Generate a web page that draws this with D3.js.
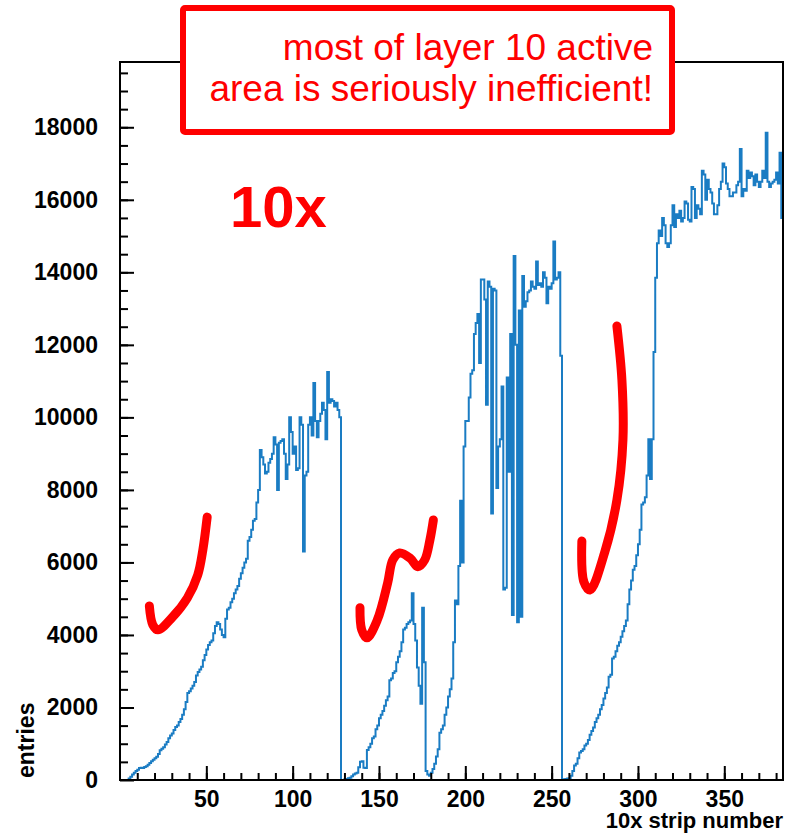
<!DOCTYPE html>
<html>
<head>
<meta charset="utf-8">
<script src="https://cdn.jsdelivr.net/npm/d3@7"></script>
<style>
  body { margin: 0; background: #fff; }
  svg text { font-family: "Liberation Sans", Arial, Helvetica, sans-serif; }
</style>
</head>
<body>
<div id="chart"></div>
<script>
// entries per strip (1 strip per bin)
var entriesA = [ // strips 0-127
  0,0,0,0,0,40,90,150,200,250,
  280,330,340,330,360,380,420,470,520,560,
  600,640,720,820,860,900,980,1050,1150,1230,
  1280,1380,1460,1500,1600,1680,1800,1950,2150,2400,
  2450,2520,2600,2700,2880,2980,3050,3120,3300,3450,
  3600,3720,3800,3850,4050,4250,4350,4300,4150,4000,
  3940,4450,4700,4750,4900,5000,5150,5250,5350,5550,
  5700,5850,6000,6100,6600,6700,6900,7150,7200,7650,
  8000,9100,8900,8700,8450,8500,8750,8850,9000,9450,
  9250,8000,9300,9350,9400,9000,8300,8700,10000,9600,
  9000,9200,8550,8600,10000,9800,6300,8400,8500,9800,
  10000,9500,10950,9900,9450,9900,10100,10400,10200,9400,
  11250,10400,10500,10450,10300,10400,10200,10000
];
var entriesB = [ // strips 128-177
  0,0,20,30,50,60,100,150,180,200,
  350,500,520,340,330,830,900,1000,1150,1200,
  1400,1500,1700,1800,1900,2050,2200,2300,2750,2800,
  2950,3000,3250,3400,3550,3800,4150,4200,4300,4350,
  4400,5150,4300,3850,3100,2600,2100,4750,3250,250
];
var entriesC = [ // strips 178-255
  150,120,200,300,450,650,850,1300,1400,1500,
  1800,2000,2300,2500,2800,3800,4950,4850,5900,7700,
  6000,9200,9900,9900,10550,11200,11300,12300,12600,12850,
  11500,13800,13800,13250,10350,13750,13600,7350,13550,13500,
  8050,9200,9400,10850,5250,5300,11100,8500,12300,4550,
  14450,12000,4350,12950,4500,13900,13050,13200,13450,13500,
  13750,13600,13550,14300,13650,13700,13600,14000,13850,13150,
  13600,13550,13700,14850,13800,13850,14000,11700
];
var entriesD = [ // strips 256-383
  0,20,30,40,50,120,250,400,450,600,
  760,800,850,950,1000,1100,1250,1350,1450,1600,
  1700,1800,1950,2070,2250,2400,2550,2850,2900,3350,
  3400,3550,3700,3800,3950,4100,4250,4400,4850,5250,
  5500,5800,5900,6200,6500,6900,7600,7650,7800,8400,
  9400,8300,9400,11800,13850,14800,15150,15000,15500,15300,
  14800,14700,14800,15300,15850,15250,15600,15500,15700,15400,
  15500,15950,15900,15450,15400,16350,16300,15500,15850,15750,
  15600,16800,16700,16000,16550,16300,16200,15900,15600,15600,
  15850,16300,16500,17000,16900,16450,16300,16100,16100,16200,
  16200,16400,16500,17400,16100,16300,16250,16800,16600,16750,
  16650,16400,16700,16500,16350,16500,16800,16600,17850,16500,
  16350,16450,16500,16550,16750,16450,17300,15500
];

var xTicks = [50, 100, 150, 200, 250, 300, 350];
var yTicks = [0, 2000, 4000, 6000, 8000, 10000, 12000, 14000, 16000, 18000];
var xTitle = "10x strip number";
var yTitle = "entries";
var noteLines = ["most of layer 10 active", "area is seriously inefficient!"];
var bigNote = "10x";

// hand-drawn check marks, in (strip, entries) units
var check1 = [[17,4800],[19,4280],[22,4140],[30,4470],[39,5020],[45,5650],[48,6350],[50.5,7250]];
var check2 = [[139,4750],[140,4140],[143,3920],[149,4410],[155,5430],[158,6070],[162,6260],[168,6120],[172.5,5880],[176.5,6070],[179.5,6620],[181.5,7170]];
var check3 = [[267.5,6590],[268.7,5460],[272.2,5240],[280.8,6290],[287.8,7720],[291.3,9380],[290.7,11030],[287.8,12520]];

var W = 792, H = 834;
var frameL = 120, frameR = 783, frameT = 62, frameB = 780;

var entries = entriesA.concat(entriesB, entriesC, entriesD);
var nBins = entries.length;

var svg = d3.select("#chart").append("svg")
    .attr("width", W)
    .attr("height", H);

svg.append("rect").attr("width", W).attr("height", H).attr("fill", "#fff");

var x = d3.scaleLinear().domain([0, nBins]).range([frameL, frameR]);
var y = d3.scaleLinear().domain([0, 19800]).range([frameB, frameT]);

svg.append("clipPath").attr("id", "frameclip")
  .append("rect")
    .attr("x", frameL).attr("y", frameT)
    .attr("width", frameR - frameL).attr("height", frameB - frameT);

// histogram outline
var pts = entries.map(function(v, i) { return [i, v]; });
pts.push([nBins, entries[nBins - 1]]);

var step = d3.line()
    .x(function(d) { return x(d[0]); })
    .y(function(d) { return y(d[1]); })
    .curve(d3.curveStepAfter);

svg.append("path")
    .datum(pts)
    .attr("clip-path", "url(#frameclip)")
    .attr("fill", "none")
    .attr("stroke", "#1a7cc3")
    .attr("stroke-width", 2)
    .attr("d", step);

// minor ticks
svg.append("g")
    .attr("transform", "translate(0," + frameB + ")")
    .call(d3.axisBottom(x).tickValues(d3.range(10, nBins, 10)).tickSize(-7).tickFormat(""))
    .call(function(g) { g.select(".domain").remove(); });
svg.append("g")
    .attr("transform", "translate(" + frameL + ",0)")
    .call(d3.axisLeft(y).tickValues(d3.range(500, 19800, 500)).tickSize(-8).tickFormat(""))
    .call(function(g) { g.select(".domain").remove(); });

// major ticks + labels
var xAxis = svg.append("g")
    .attr("transform", "translate(0," + frameB + ")")
    .call(d3.axisBottom(x).tickValues(xTicks).tickSize(-14).tickPadding(11));
var yAxis = svg.append("g")
    .attr("transform", "translate(" + frameL + ",0)")
    .call(d3.axisLeft(y).tickValues(yTicks).tickSize(-14).tickPadding(22).tickFormat(d3.format("d")));

[xAxis, yAxis].forEach(function(g) {
  g.select(".domain").remove();
  g.selectAll("text")
    .attr("fill", "#000")
    .style("font-size", "23px")
    .style("font-weight", "bold");
});

svg.selectAll(".tick line").attr("stroke", "#000").attr("stroke-width", 2);

// frame
svg.append("rect")
    .attr("x", frameL).attr("y", frameT)
    .attr("width", frameR - frameL).attr("height", frameB - frameT)
    .attr("fill", "none")
    .attr("stroke", "#000")
    .attr("stroke-width", 2);

// axis titles
svg.append("text")
    .attr("x", frameR).attr("y", 828)
    .attr("text-anchor", "end")
    .style("font-size", "22px").style("font-weight", "bold")
    .text(xTitle);

svg.append("text")
    .attr("transform", "translate(34,778) rotate(-90)")
    .attr("text-anchor", "start")
    .style("font-size", "23px").style("font-weight", "bold")
    .text(yTitle);

// annotations
svg.append("rect")
    .attr("x", 183).attr("y", 8)
    .attr("width", 489).attr("height", 124)
    .attr("rx", 2)
    .attr("fill", "#fff")
    .attr("stroke", "#ff0000")
    .attr("stroke-width", 6);

svg.selectAll(".note")
    .data(noteLines)
  .enter().append("text")
    .attr("class", "note")
    .attr("x", 653)
    .attr("y", function(d, i) { return 60 + i * 41; })
    .attr("text-anchor", "end")
    .attr("fill", "#ff0000")
    .style("font-size", "37px")
    .text(function(d) { return d; });

svg.append("text")
    .attr("x", 230).attr("y", 227)
    .attr("fill", "#ff0000")
    .style("font-size", "58px").style("font-weight", "bold")
    .text(bigNote);

var pen = d3.line()
    .x(function(d) { return x(d[0]); })
    .y(function(d) { return y(d[1]); })
    .curve(d3.curveCatmullRom.alpha(0.5));

[check1, check2, check3].forEach(function(c) {
  svg.append("path")
      .datum(c)
      .attr("fill", "none")
      .attr("stroke", "#ff0000")
      .attr("stroke-width", 9)
      .attr("stroke-linecap", "round")
      .attr("stroke-linejoin", "round")
      .attr("d", pen);
});
</script>
</body>
</html>
